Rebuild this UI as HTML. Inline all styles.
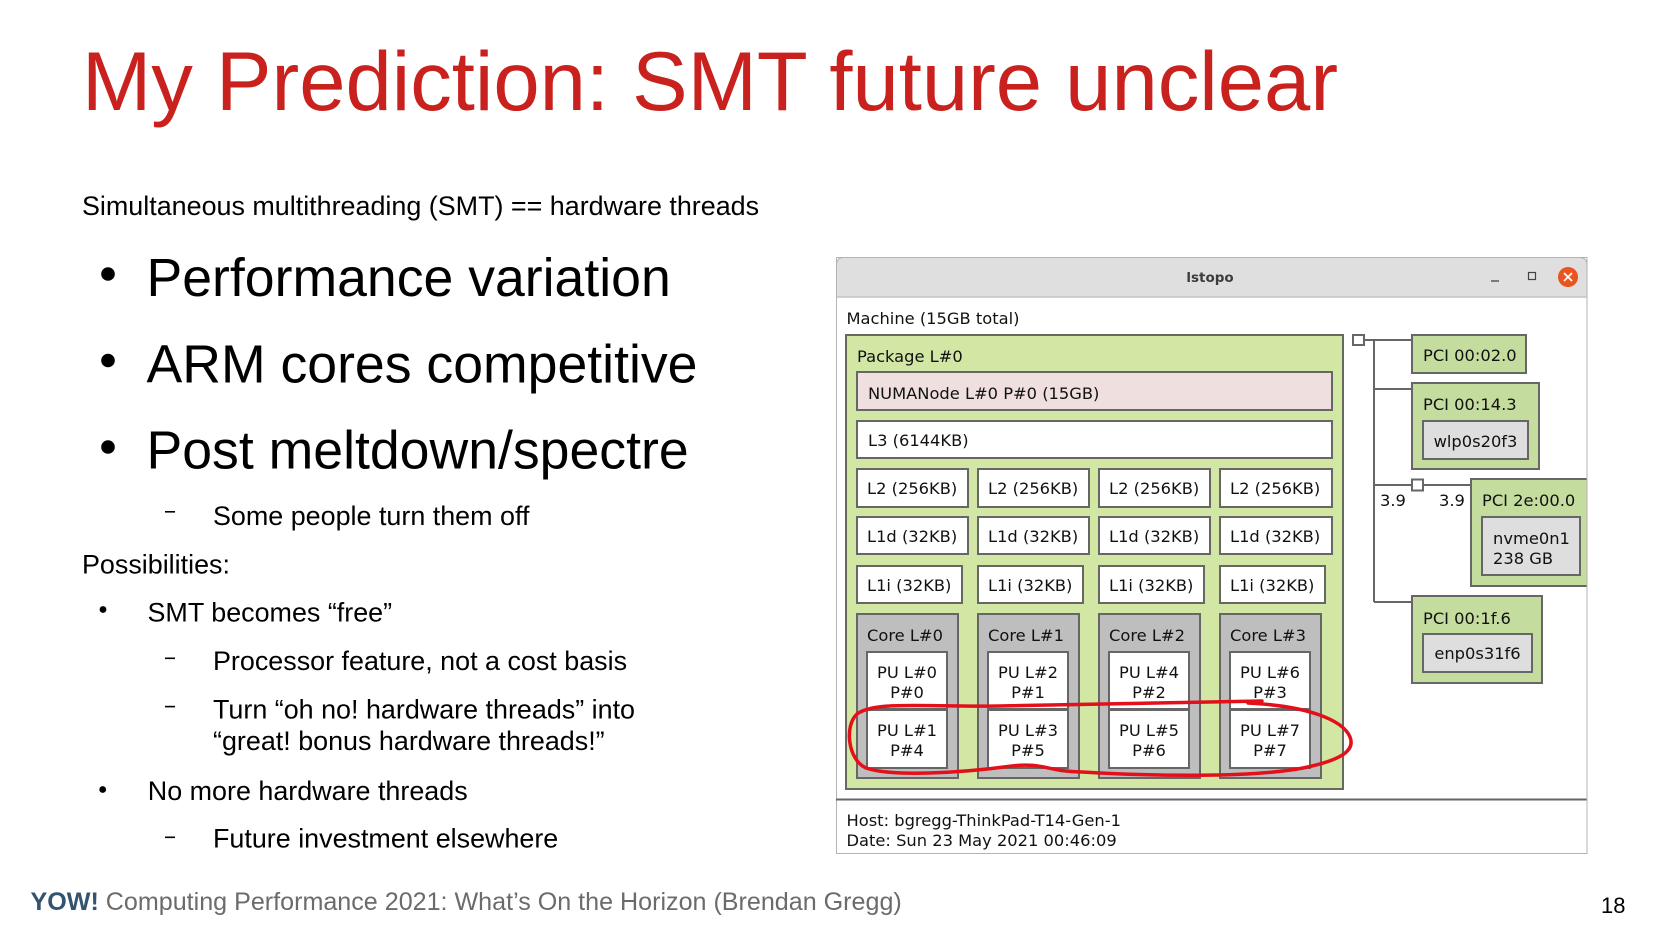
<!DOCTYPE html>
<html>
<head>
<meta charset="utf-8">
<style>
  html,body{margin:0;padding:0;background:#fff;}
  svg{display:block;}
  .s{font-family:"Liberation Sans",Arial,sans-serif;}
  .d{font-family:"DejaVu Sans","Liberation Sans",sans-serif;font-size:16.3px;fill:#111;}
</style>
</head>
<body>
<svg width="1654" height="931" viewBox="0 0 1654 931" xmlns="http://www.w3.org/2000/svg">
  <rect width="1654" height="931" fill="#fff"/>

  <!-- Title -->
  <text class="s" x="82" y="110" font-size="83.2" fill="#c9211e">My Prediction: SMT future unclear</text>

  <!-- Left text -->
  <text class="s" x="82" y="215" font-size="26.9" fill="#000">Simultaneous multithreading (SMT) == hardware threads</text>

  <circle cx="108" cy="274" r="6.8" fill="#000"/>
  <text class="s" x="146.5" y="296" font-size="53.6" fill="#000">Performance variation</text>
  <circle cx="108" cy="360.5" r="6.8" fill="#000"/>
  <text class="s" x="146.5" y="382.7" font-size="53.6" fill="#000">ARM cores competitive</text>
  <circle cx="108" cy="447" r="6.8" fill="#000"/>
  <text class="s" x="146.5" y="468.3" font-size="53.6" fill="#000">Post meltdown/spectre</text>

  <rect x="165" y="511" width="10" height="1.6" fill="#000"/>
  <text class="s" x="213" y="525" font-size="26.9" fill="#000">Some people turn them off</text>

  <text class="s" x="82" y="573.3" font-size="26.9" fill="#000">Possibilities:</text>

  <circle cx="103" cy="609.5" r="3.4" fill="#000"/>
  <text class="s" x="147.5" y="621.7" font-size="26.9" fill="#000">SMT becomes “free”</text>

  <rect x="165" y="657.5" width="10" height="1.6" fill="#000"/>
  <text class="s" x="213" y="670" font-size="26.9" fill="#000">Processor feature, not a cost basis</text>

  <rect x="165" y="705.8" width="10" height="1.6" fill="#000"/>
  <text class="s" x="213" y="718.3" font-size="26.9" fill="#000">Turn “oh no! hardware threads” into</text>
  <text class="s" x="213" y="750" font-size="26.9" fill="#000">“great! bonus hardware threads!”</text>

  <circle cx="102.7" cy="789.5" r="3.4" fill="#000"/>
  <text class="s" x="147.8" y="800" font-size="26.9" fill="#000">No more hardware threads</text>

  <rect x="165" y="836.5" width="10" height="1.6" fill="#000"/>
  <text class="s" x="213" y="847.7" font-size="26.9" fill="#000">Future investment elsewhere</text>

  <!-- Footer -->
  <text class="s" x="30.5" y="910" font-size="25.1" fill="#6b6b6b"><tspan font-weight="bold" fill="#34536f">YOW!</tspan> Computing Performance 2021: What’s On the Horizon (Brendan Gregg)</text>
  <text class="s" x="1601" y="913" font-size="22" fill="#000">18</text>

  <!-- lstopo window -->
  <defs>
    <clipPath id="win"><rect x="836" y="257" width="751" height="597"/></clipPath>
  </defs>
  <rect x="836.5" y="257.5" width="750.5" height="596" fill="#fff" stroke="#b3b3b3" stroke-width="1"/>
  <path d="M836.5,297 V265 Q836.5,257.5 844,257.5 H1579 Q1587,257.5 1587,265 V297 Z" fill="#dfdfdf" stroke="#b3b3b3" stroke-width="1"/>
  <line x1="836.5" y1="297" x2="1587" y2="297" stroke="#c4c4c4" stroke-width="1.5"/>
  <text x="1210" y="282" text-anchor="middle" font-family="'DejaVu Sans',sans-serif" font-weight="bold" font-size="13.5" fill="#3c3c3c">lstopo</text>
  <line x1="1491" y1="281" x2="1499" y2="281" stroke="#444" stroke-width="1.3"/>
  <rect x="1528.5" y="272.5" width="7" height="7" fill="none" stroke="#444" stroke-width="1.2"/>
  <circle cx="1568" cy="277" r="10" fill="#e9541f"/>
  <line x1="1564" y1="273" x2="1572" y2="281" stroke="#fff" stroke-width="1.8"/>
  <line x1="1572" y1="273" x2="1564" y2="281" stroke="#fff" stroke-width="1.8"/>

  <g clip-path="url(#win)">
    <text class="d" x="846.5" y="324">Machine (15GB total)</text>

    <!-- Package -->
    <rect x="846" y="335" width="497" height="454" fill="#d2e7a4" stroke="#646b5c" stroke-width="2"/>
    <text class="d" x="857" y="362">Package L#0</text>

    <rect x="857" y="372" width="475" height="38" fill="#efdfde" stroke="#666" stroke-width="2"/>
    <text class="d" x="868" y="399">NUMANode L#0 P#0 (15GB)</text>

    <rect x="857" y="421" width="475" height="37" fill="#fff" stroke="#666" stroke-width="2"/>
    <text class="d" x="868" y="446">L3 (6144KB)</text>

    <!-- L2 -->
    <rect x="857" y="469" width="111" height="38" fill="#fff" stroke="#666" stroke-width="2"/>
    <rect x="978" y="469" width="111" height="38" fill="#fff" stroke="#666" stroke-width="2"/>
    <rect x="1099" y="469" width="111" height="38" fill="#fff" stroke="#666" stroke-width="2"/>
    <rect x="1220" y="469" width="112" height="38" fill="#fff" stroke="#666" stroke-width="2"/>
    <text class="d" x="867" y="494">L2 (256KB)</text>
    <text class="d" x="988" y="494">L2 (256KB)</text>
    <text class="d" x="1109" y="494">L2 (256KB)</text>
    <text class="d" x="1230" y="494">L2 (256KB)</text>

    <!-- L1d -->
    <rect x="857" y="517" width="111" height="37" fill="#fff" stroke="#666" stroke-width="2"/>
    <rect x="978" y="517" width="111" height="37" fill="#fff" stroke="#666" stroke-width="2"/>
    <rect x="1099" y="517" width="111" height="37" fill="#fff" stroke="#666" stroke-width="2"/>
    <rect x="1220" y="517" width="112" height="37" fill="#fff" stroke="#666" stroke-width="2"/>
    <text class="d" x="867" y="542">L1d (32KB)</text>
    <text class="d" x="988" y="542">L1d (32KB)</text>
    <text class="d" x="1109" y="542">L1d (32KB)</text>
    <text class="d" x="1230" y="542">L1d (32KB)</text>

    <!-- L1i -->
    <rect x="857" y="566" width="105" height="37" fill="#fff" stroke="#666" stroke-width="2"/>
    <rect x="978" y="566" width="105" height="37" fill="#fff" stroke="#666" stroke-width="2"/>
    <rect x="1099" y="566" width="105" height="37" fill="#fff" stroke="#666" stroke-width="2"/>
    <rect x="1220" y="566" width="105" height="37" fill="#fff" stroke="#666" stroke-width="2"/>
    <text class="d" x="867" y="591">L1i (32KB)</text>
    <text class="d" x="988" y="591">L1i (32KB)</text>
    <text class="d" x="1109" y="591">L1i (32KB)</text>
    <text class="d" x="1230" y="591">L1i (32KB)</text>

    <!-- Cores -->
    <rect x="857" y="614" width="101" height="164" fill="#bebebe" stroke="#666" stroke-width="2"/>
    <rect x="978" y="614" width="101" height="164" fill="#bebebe" stroke="#666" stroke-width="2"/>
    <rect x="1099" y="614" width="101" height="164" fill="#bebebe" stroke="#666" stroke-width="2"/>
    <rect x="1220" y="614" width="101" height="164" fill="#bebebe" stroke="#666" stroke-width="2"/>
    <text class="d" x="867" y="641">Core L#0</text>
    <text class="d" x="988" y="641">Core L#1</text>
    <text class="d" x="1109" y="641">Core L#2</text>
    <text class="d" x="1230" y="641">Core L#3</text>

    <!-- PUs -->
    <g fill="#fff" stroke="#666" stroke-width="2">
      <rect x="867" y="652" width="80" height="57"/>
      <rect x="867" y="710" width="80" height="58"/>
      <rect x="988" y="652" width="80" height="57"/>
      <rect x="988" y="710" width="80" height="58"/>
      <rect x="1109" y="652" width="80" height="57"/>
      <rect x="1109" y="710" width="80" height="58"/>
      <rect x="1230" y="652" width="80" height="57"/>
      <rect x="1230" y="710" width="80" height="58"/>
    </g>
    <g>
      <text class="d" x="907" y="678" text-anchor="middle">PU L#0</text>
      <text class="d" x="907" y="698" text-anchor="middle">P#0</text>
      <text class="d" x="907" y="736" text-anchor="middle">PU L#1</text>
      <text class="d" x="907" y="756" text-anchor="middle">P#4</text>

      <text class="d" x="1028" y="678" text-anchor="middle">PU L#2</text>
      <text class="d" x="1028" y="698" text-anchor="middle">P#1</text>
      <text class="d" x="1028" y="736" text-anchor="middle">PU L#3</text>
      <text class="d" x="1028" y="756" text-anchor="middle">P#5</text>

      <text class="d" x="1149" y="678" text-anchor="middle">PU L#4</text>
      <text class="d" x="1149" y="698" text-anchor="middle">P#2</text>
      <text class="d" x="1149" y="736" text-anchor="middle">PU L#5</text>
      <text class="d" x="1149" y="756" text-anchor="middle">P#6</text>

      <text class="d" x="1270" y="678" text-anchor="middle">PU L#6</text>
      <text class="d" x="1270" y="698" text-anchor="middle">P#3</text>
      <text class="d" x="1270" y="736" text-anchor="middle">PU L#7</text>
      <text class="d" x="1270" y="756" text-anchor="middle">P#7</text>
    </g>

    <!-- PCI tree lines -->
    <g stroke="#666" stroke-width="2" fill="none">
      <line x1="1364" y1="340" x2="1412" y2="340"/>
      <line x1="1374" y1="340" x2="1374" y2="602"/>
      <line x1="1374" y1="389" x2="1412" y2="389"/>
      <line x1="1374" y1="485" x2="1412" y2="485"/>
      <line x1="1423" y1="485" x2="1471" y2="485"/>
      <line x1="1374" y1="602" x2="1412" y2="602"/>
    </g>
    <rect x="1353" y="335" width="11" height="10" fill="#fff" stroke="#666" stroke-width="2"/>
    <rect x="1412" y="479.5" width="11" height="11" fill="#fff" stroke="#666" stroke-width="2"/>
    <text class="d" x="1380" y="506">3.9</text>
    <text class="d" x="1439" y="506">3.9</text>

    <!-- PCI devices -->
    <rect x="1412" y="335" width="114" height="38" fill="#c5dc9f" stroke="#666" stroke-width="2"/>
    <text class="d" x="1423" y="361">PCI 00:02.0</text>

    <rect x="1412" y="383" width="127" height="86" fill="#c5dc9f" stroke="#666" stroke-width="2"/>
    <text class="d" x="1423" y="410">PCI 00:14.3</text>
    <rect x="1423" y="421" width="105" height="38" fill="#dedede" stroke="#666" stroke-width="2"/>
    <text class="d" x="1475.5" y="447" text-anchor="middle">wlp0s20f3</text>

    <rect x="1471" y="479" width="125" height="107" fill="#c5dc9f" stroke="#666" stroke-width="2"/>
    <text class="d" x="1482" y="506">PCI 2e:00.0</text>
    <rect x="1482" y="517" width="98" height="58" fill="#dedede" stroke="#666" stroke-width="2"/>
    <text class="d" x="1493" y="544">nvme0n1</text>
    <text class="d" x="1493" y="564">238 GB</text>

    <rect x="1412" y="596" width="130" height="87" fill="#c5dc9f" stroke="#666" stroke-width="2"/>
    <text class="d" x="1423" y="624">PCI 00:1f.6</text>
    <rect x="1423" y="634" width="109" height="38" fill="#dedede" stroke="#666" stroke-width="2"/>
    <text class="d" x="1477.5" y="659" text-anchor="middle">enp0s31f6</text>

    <!-- Bottom legend -->
    <line x1="836" y1="799.5" x2="1587" y2="799.5" stroke="#666" stroke-width="2"/>
    <text class="d" x="846.5" y="826">Host: bgregg-ThinkPad-T14-Gen-1</text>
    <text class="d" x="846.5" y="846">Date: Sun 23 May 2021 00:46:09</text>
  </g>
  <line x1="1587" y1="297" x2="1587" y2="853.5" stroke="#b3b3b3" stroke-width="1"/>

  <!-- Red hand-drawn ellipse -->
  <path d="M1262,701 C1200,702 1100,704 999,706 C920,707 875,701 857,714 C844,726 848,760 866,768 C892,777 960,773 1012,766 C1042,762 1050,772 1082,772 C1150,776 1250,778 1303,768 C1337,761 1356,752 1350,737 C1343,720 1308,706 1248,703"
        fill="none" stroke="#e3101a" stroke-width="3.5" stroke-linecap="round" stroke-linejoin="round"/>
</svg>
</body>
</html>
